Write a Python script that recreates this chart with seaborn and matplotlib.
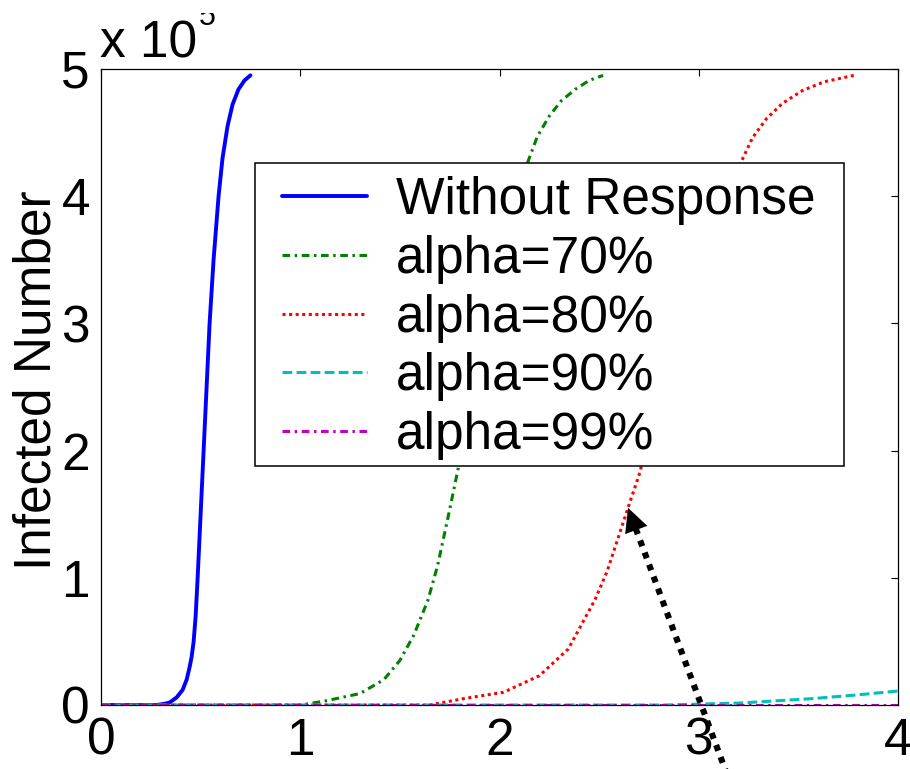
import numpy as np
import pandas as pd
import seaborn as sns
import matplotlib
matplotlib.use("Agg")
import matplotlib.pyplot as plt
from matplotlib.patches import Rectangle
from matplotlib.transforms import Bbox

# ---------------- data (infected number in units of 10^5) ----------------
series_names = ["Without Response", "alpha=70%", "alpha=80%", "alpha=90%", "alpha=99%"]

t_without = [0.0, 0.28, 0.32, 0.345, 0.38, 0.41, 0.43, 0.445, 0.455, 0.465, 0.475,
             0.485, 0.50, 0.515, 0.53, 0.545, 0.565, 0.59, 0.61, 0.635, 0.66,
             0.69, 0.72, 0.75]
y_without = [0.0, 0.0, 0.01, 0.02, 0.06, 0.12, 0.2, 0.3, 0.38, 0.5, 0.7,
             1.0, 1.5, 2.0, 2.5, 3.0, 3.5, 4.0, 4.3, 4.55, 4.72,
             4.84, 4.91, 4.95]

t_a70 = [0.0, 1.0, 1.12, 1.30, 1.42, 1.50, 1.57, 1.64, 1.69, 1.745, 1.79,
         1.85, 1.93, 2.02, 2.09, 2.14, 2.19, 2.25, 2.31, 2.38, 2.45, 2.52]
y_a70 = [0.0, 0.0, 0.03, 0.09, 0.20, 0.35, 0.55, 0.82, 1.10, 1.50, 1.84,
         2.30, 2.90, 3.50, 3.95, 4.26, 4.47, 4.63, 4.75, 4.84, 4.91, 4.95]

t_a80 = [0.0, 1.65, 1.82, 2.02, 2.20, 2.345, 2.48, 2.54, 2.645, 2.705,
         2.78, 2.87, 2.97, 3.08, 3.21, 3.27, 3.34, 3.42, 3.52, 3.63, 3.78]
y_a80 = [0.0, 0.0, 0.05, 0.10, 0.23, 0.44, 0.83, 1.05, 1.55, 1.83,
         2.35, 2.95, 3.55, 3.95, 4.26, 4.46, 4.61, 4.73, 4.83, 4.90, 4.95]

t_a90 = [0.0, 2.83, 3.20, 3.57, 3.80, 4.0]
y_a90 = [0.0, 0.0, 0.015, 0.05, 0.08, 0.11]

t_a99 = [0.0, 4.0]
y_a99 = [0.0, 0.0]

x_ticks = [0, 1, 2, 3, 4]
y_ticks = [0, 1, 2, 3, 4, 5]

# annotation arrow (data coords)
arrow_tip = (2.645, 1.55)
arrow_tail = (3.15, -0.58)

# ---------------- styling ----------------
sns.set_style("white")
plt.rcParams["font.family"] = ["Liberation Sans", "DejaVu Sans"]
plt.rcParams["text.color"] = "black"
plt.rcParams["axes.labelcolor"] = "black"
plt.rcParams["xtick.color"] = "black"
plt.rcParams["ytick.color"] = "black"

colors = ["#0000ff", "#008000", "#ff0000", "#00bfbf", "#bf00bf"]
styles = ["-", (0, (2.5, 1.5, 0.8, 1.5)), (0, (1, 1.15)), (0, (3.2, 1.4)),
          (0, (2.5, 1.5, 0.8, 1.5))]
widths = [2.8, 2.2, 2.2, 2.2, 2.2]

FS = 37

fig = plt.figure(figsize=(9.1, 7.69), dpi=100)
ax = fig.add_axes([101 / 910, 64 / 769, 797 / 910, 636 / 769])

data = [(t_without, y_without), (t_a70, y_a70), (t_a80, y_a80),
        (t_a90, y_a90), (t_a99, y_a99)]
for (tx, ty), name, c, ls, lw in zip(data, series_names, colors, styles, widths):
    df = pd.DataFrame({"t": tx, "infected": ty})
    sns.lineplot(data=df, x="t", y="infected", ax=ax, color=c, linestyle=ls,
                 linewidth=lw, label=name, estimator=None, sort=False)

ax.set_xlim(0, 4)
ax.set_ylim(0, 5)
ax.set_xticks(x_ticks)
ax.set_yticks(y_ticks)
ax.set_xticklabels([str(v) for v in x_ticks])
ax.set_yticklabels([str(v) for v in y_ticks])
ax.set_xlabel("")
ax.set_ylabel("Infected Number", fontsize=FS, color="black")
ax.yaxis.set_label_coords(-0.05, 0.51)

ax.tick_params(direction="in", length=5, width=0.8, top=True, right=True,
               labelsize=FS, colors="black")
ax.tick_params(axis="x", pad=8.5)
ax.tick_params(axis="y", pad=8)
for sp in ax.spines.values():
    sp.set_visible(True)
    sp.set_color("black")
    sp.set_linewidth(0.9)

# exponent label (the exponent is clipped at the top like the original)
fig.text(100 / 910, 1 - 57 / 769, "x 10", fontsize=FS, ha="left", va="baseline",
         color="black")
exp_txt = fig.text(199 / 910, 1 - 25 / 769, "5", fontsize=22, ha="left",
                   va="baseline", color="black")
exp_txt.set_clip_box(Bbox([[0, 0], [910, 769 - 13]]))
exp_txt.set_clip_on(True)

# legend
handles, labels = ax.get_legend_handles_labels()
leg = ax.legend(handles, labels, loc="upper left", bbox_to_anchor=(0.2271, 0.8318),
                borderaxespad=0, borderpad=0, frameon=False, fontsize=FS,
                handlelength=1.65, handletextpad=0.56, labelspacing=0.19,
                labelcolor="black")
leg.set_zorder(6)

fig.canvas.draw()
bb = leg.get_window_extent()
rect = Rectangle((bb.x0 - 27, bb.y0 - 6), bb.width + 56, bb.height + 19,
                 transform=None, facecolor="white", edgecolor="black",
                 linewidth=1.1, zorder=5, clip_on=False)
ax.add_patch(rect)

# dotted arrow
tip_px = ax.transData.transform(arrow_tip)
tail_px = ax.transData.transform(arrow_tail)
vec = tail_px - tip_px
unit = vec / np.hypot(*vec)
base = ax.transData.inverted().transform(tip_px + unit * 22)
ax.plot([base[0], arrow_tail[0]], [base[1], arrow_tail[1]], color="black",
        linewidth=4.4, linestyle=(0, (1, 1.1)), dash_capstyle="butt",
        clip_on=False, zorder=7)
near = ax.transData.inverted().transform(tip_px + unit * 30)
ax.annotate("", xy=arrow_tip, xytext=tuple(near),
            arrowprops=dict(arrowstyle="-|>,head_length=1.0,head_width=0.5",
                            mutation_scale=17, color="black", lw=0,
                            shrinkA=0, shrinkB=0),
            annotation_clip=False, zorder=8)

fig.savefig("out.png", dpi=100)
